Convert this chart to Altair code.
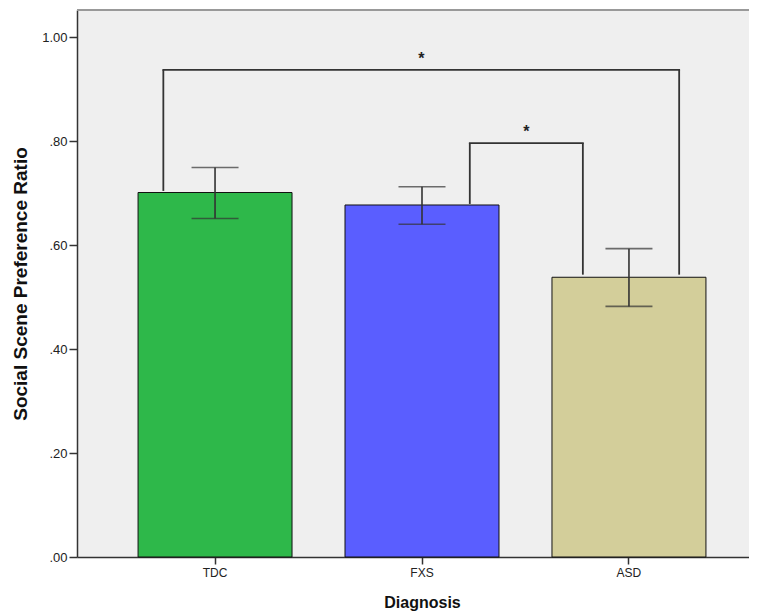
import altair as alt
import pandas as pd

# ---- data ----
groups = ["TDC", "FXS", "ASD"]
means = [0.701, 0.677, 0.538]
ci_low = [0.651, 0.640, 0.482]
ci_high = [0.749, 0.712, 0.593]
bar_colors = ["#2EB84A", "#5A5EFF", "#D3CE9A"]
y_ticks = [0.0, 0.2, 0.4, 0.6, 0.8, 1.0]

# significance brackets
sig_left = ["TDC", "FXS"]
sig_right = ["ASD", "ASD"]
sig_top = [0.937, 0.796]
sig_left_foot = [0.704, 0.679]
sig_right_foot = [0.543, 0.543]
sig_star_y = [0.948, 0.807]
sig_label = ["*", "*"]

# ---- layout / style ----
PLOT_W, PLOT_H = 672, 547
RANGE_W = 690
P_IN, P_OUT = 0.256, 0.295
STEP = RANGE_W / (len(groups) - P_IN + 2 * P_OUT)
leg_offsets = [(-51.7, 50.2), (47.8, -46.1)]
FONT = "Liberation Sans"
INK = "#333333"

df = pd.DataFrame({"group": groups, "mean": means, "lo": ci_low, "hi": ci_high})

x_scale = alt.Scale(domain=groups, range=[0, RANGE_W], paddingInner=P_IN, paddingOuter=P_OUT)
x_axis = alt.Axis(
    title="Diagnosis", labelAngle=0, tickSize=7, tickColor=INK, tickWidth=1.5,
    domainColor=INK, domainWidth=1.5, labelFontSize=12, labelColor="#222222",
    labelPadding=3, titleFontSize=16, titleFontWeight="bold", titleColor="#111111",
    titleY=50, titleBaseline="alphabetic", labelFont=FONT, titleFont=FONT,
)
y_scale = alt.Scale(domain=[0, 1.052], nice=False, zero=True)
y_axis = alt.Axis(
    title="Social Scene Preference Ratio", values=y_ticks, grid=False,
    labelExpr="datum.value >= 1 ? format(datum.value, '.2f') : substring(format(datum.value, '.2f'), 1)",
    tickSize=8, tickColor=INK, tickWidth=1.5, domainColor=INK, domainWidth=1.5,
    labelFontSize=13, labelColor="#222222", labelPadding=2,
    titleFontSize=19, titleFontWeight="bold", titleColor="#111111",
    titleX=-57, titleY=PLOT_H / 2, titleBaseline="middle", labelFont=FONT, titleFont=FONT,
)


def X(field):
    return alt.X(f"{field}:N", scale=x_scale, axis=x_axis, sort=groups)


def Y(field):
    return alt.Y(f"{field}:Q", scale=y_scale, axis=y_axis)


bars = alt.Chart(df).mark_bar(stroke="#111111", strokeWidth=1).encode(
    x=X("group"),
    y=Y("mean"),
    color=alt.Color("group:N", scale=alt.Scale(domain=groups, range=bar_colors), legend=None),
)

err = alt.Chart(df).mark_rule(color=INK, strokeWidth=1.6).encode(
    x=X("group"), y=Y("lo"), y2="hi"
)
cap_hi = alt.Chart(df).mark_tick(color=INK, size=47, thickness=1.6).encode(x=X("group"), y=Y("hi"))
cap_lo = alt.Chart(df).mark_tick(color=INK, size=47, thickness=1.6).encode(x=X("group"), y=Y("lo"))

layers = [bars, err, cap_hi, cap_lo]

for i in range(len(sig_left)):
    off_l, off_r = leg_offsets[i]
    bdf = pd.DataFrame({
        "left": [sig_left[i]], "right": [sig_right[i]], "top": [sig_top[i]],
        "lfoot": [sig_left_foot[i]], "rfoot": [sig_right_foot[i]],
        "star": [sig_star_y[i]], "label": [sig_label[i]],
    })
    span = (groups.index(sig_right[i]) - groups.index(sig_left[i])) * STEP
    mid_dx = (span + off_l + off_r) / 2
    base = alt.Chart(bdf)
    layers.append(base.mark_rule(color=INK, strokeWidth=1.8, xOffset=off_l).encode(
        x=X("left"), y=Y("lfoot"), y2="top"))
    layers.append(base.mark_rule(color=INK, strokeWidth=1.8, xOffset=off_r).encode(
        x=X("right"), y=Y("rfoot"), y2="top"))
    layers.append(base.mark_rule(color=INK, strokeWidth=1.8, xOffset=off_l - 0.9,
                                 x2Offset=off_r + 0.9).encode(
        x=X("left"), x2="right", y=Y("top")))
    layers.append(base.mark_text(color="#222222", fontSize=16, font=FONT, fontWeight="bold",
                                 dx=mid_dx, baseline="alphabetic", align="center").encode(
        x=X("left"), y=Y("star"), text="label:N"))

frame = alt.Chart(pd.DataFrame({"a": [0]})).mark_rule(color="#999999", strokeWidth=2).encode(
    x=alt.value(0), x2=alt.value(PLOT_W), y=alt.value(0)
)
layers.append(frame)

chart = alt.layer(*layers).properties(
    width=PLOT_W, height=PLOT_H,
    autosize=alt.AutoSizeParams(type="none"),
    padding={"left": 69, "top": 2, "right": 0, "bottom": 58},
    background="white",
).configure_view(fill="#EFEFEF", stroke="transparent")

chart.save("out.html", embed_options={"renderer": "svg", "actions": False})
